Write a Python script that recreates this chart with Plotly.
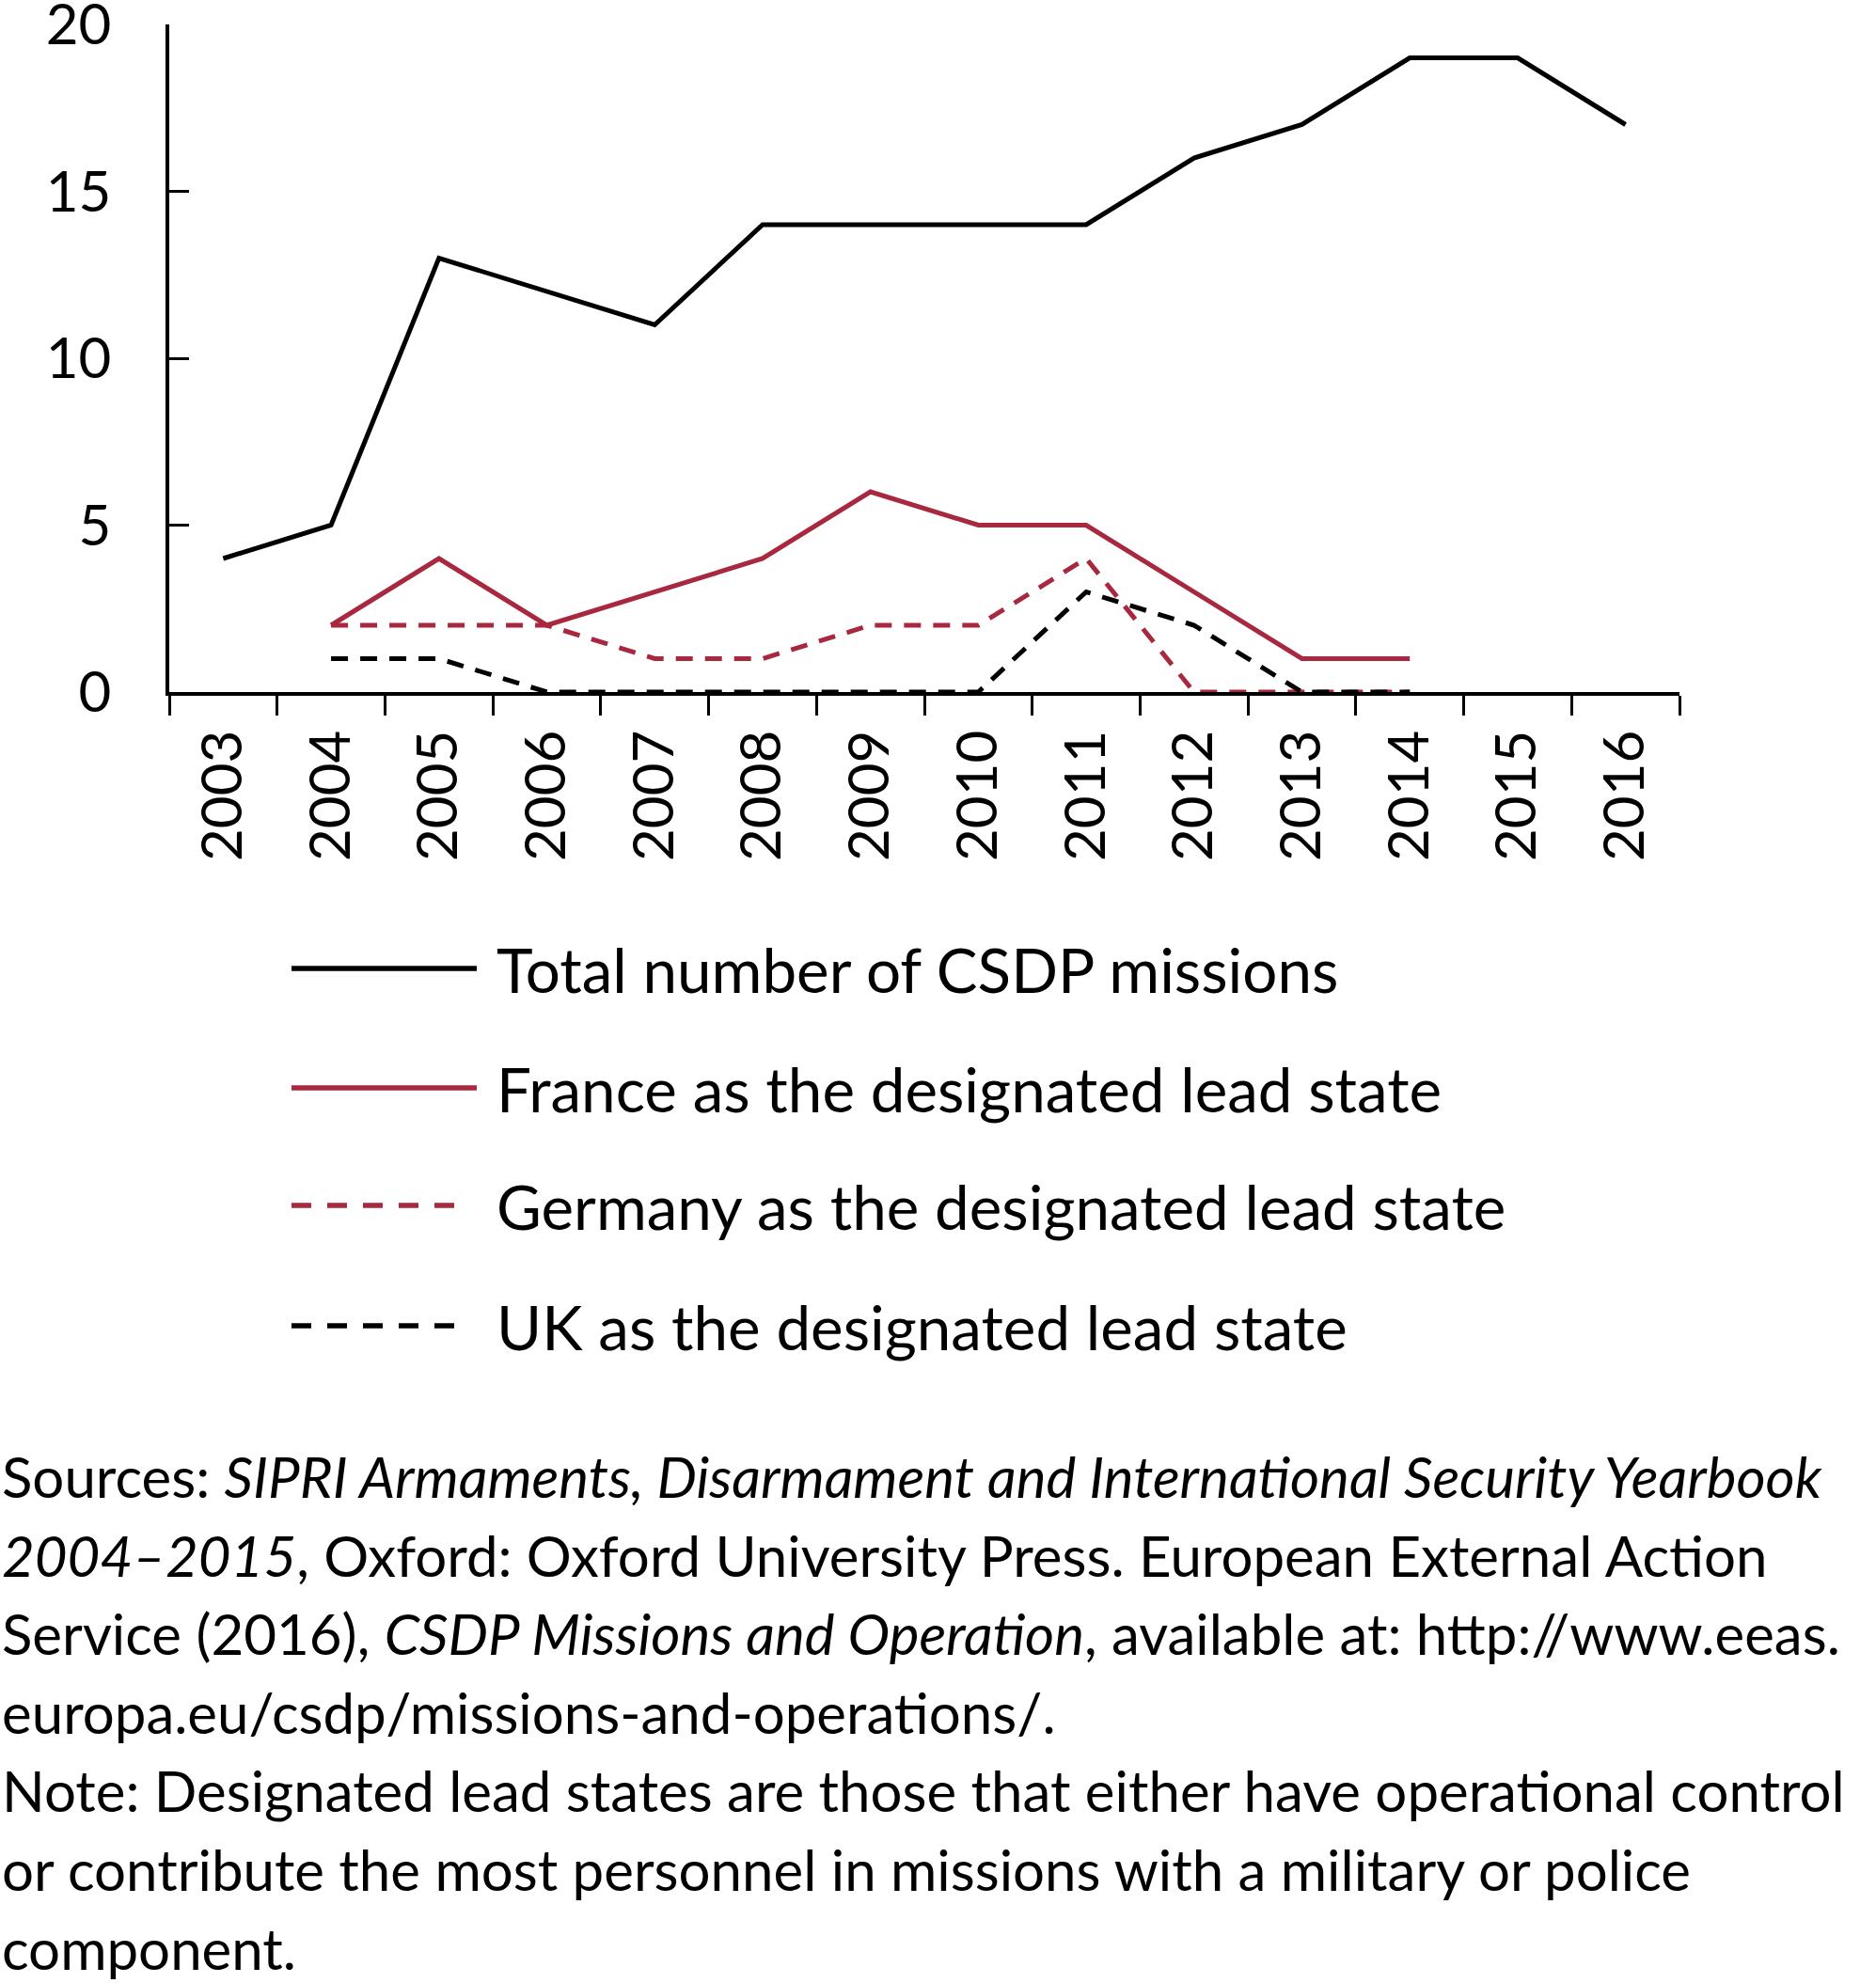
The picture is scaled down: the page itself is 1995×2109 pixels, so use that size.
import plotly.graph_objects as go

years = ["2003", "2004", "2005", "2006", "2007", "2008", "2009", "2010",
         "2011", "2012", "2013", "2014", "2015", "2016"]
total = [4, 5, 13, 12, 11, 14, 14, 14, 14, 16, 17, 19, 19, 17]
france = [None, 2, 4, 2, 3, 4, 6, 5, 5, 3, 1, 1, None, None]
germany = [None, 2, 2, 2, 1, 1, 2, 2, 4, 0, 0, 0, None, None]
uk = [None, 1, 1, 0, 0, 0, 0, 0, 3, 2, 0, 0, None, None]

series_names = ["Total number of CSDP missions",
                "France as the designated lead state",
                "Germany as the designated lead state",
                "UK as the designated lead state"]
y_ticks = [0, 5, 10, 15, 20]

footnote_lines = [
    "Sources: <i>SIPRI Armaments, Disarmament and International Security Yearbook</i>",
    "<i>2004–2015</i>, Oxford: Oxford University Press. European External Action",
    "Service (2016), <i>CSDP Missions and Operation</i>, available at: http://www.eeas.",
    "europa.eu/csdp/missions-and-operations/.",
    "Note: Designated lead states are those that either have operational control",
    "or contribute the most personnel in missions with a military or police",
    "component.",
]

RED = "#A8283F"
BLACK = "#000000"
FONT = "Lato"

W, H = 1995, 2109
L, R, T, B = 180, 1786, 26, 736


def px(x):
    return (x - L) / (R - L)


def py(y):
    return (B - y) / (B - T)


fig = go.Figure()
styles = [(BLACK, "solid"), (RED, "solid"), (RED, "18px,13px"), (BLACK, "18px,13px")]
for name, vals, (col, dash) in zip(series_names, [total, france, germany, uk], styles):
    fig.add_trace(go.Scatter(x=years, y=vals, mode="lines", name=name,
                             line=dict(color=col, width=5, dash=dash),
                             connectgaps=False, cliponaxis=False, showlegend=False,
                             hoverinfo="skip"))

# manual legend
leg_y = [1030, 1157, 1282, 1410]
leg_dash = [None, None, "21px,17px", "21px,17px"]
leg_col = [BLACK, RED, RED, BLACK]
for yv, d, c, name in zip(leg_y, leg_dash, leg_col, series_names):
    x1 = 507 if d is None else 483
    fig.add_shape(type="line", xref="paper", yref="paper",
                  x0=px(310), x1=px(x1), y0=py(yv), y1=py(yv),
                  line=dict(color=c, width=5.5, dash=d if d else "solid"))
    fig.add_annotation(x=px(526), y=py(yv), xref="paper", yref="paper",
                       text=name, showarrow=False, xanchor="left", yanchor="middle",
                       font=dict(family=FONT, size=65.5, color="black"))

for i, line in enumerate(footnote_lines):
    fig.add_annotation(x=px(0), y=py(1570 + i * 83.6), xref="paper", yref="paper",
                       text=line, showarrow=False, xanchor="left", yanchor="middle",
                       font=dict(family=FONT, size=60, color="black"))

fig.update_layout(
    width=W, height=H,
    margin=dict(l=L, r=W - R, t=T, b=H - B, pad=0, autoexpand=False),
    paper_bgcolor="white", plot_bgcolor="white",
    font=dict(family=FONT, color="black"),
    showlegend=False,
)
fig.update_xaxes(type="category", range=[-0.5, 13.5], tickson="boundaries",
                 ticks="outside", ticklen=21, tickwidth=3, tickcolor="black",
                 showline=True, linecolor="black", linewidth=3.5,
                 showgrid=False, zeroline=False, tickangle=-90,
                 tickfont=dict(family=FONT, size=60, color="black"),
                 layer="below traces", ticklabelstandoff=13,
                 ticklabeloverflow="allow", automargin=False)
fig.update_yaxes(range=[0, 20], tickvals=y_ticks, ticks="inside", ticklen=21,
                 tickwidth=3, tickcolor="black", showline=True, linecolor="black",
                 linewidth=3.5, showgrid=False, zeroline=False,
                 tickfont=dict(family=FONT, size=60, color="black"),
                 layer="below traces", ticklabelstandoff=46,
                 ticklabeloverflow="allow", automargin=False)

fig.write_html("out.html", config={"displayModeBar": False},
               post_script="document.body.style.margin='0';document.body.style.overflow='hidden';")
